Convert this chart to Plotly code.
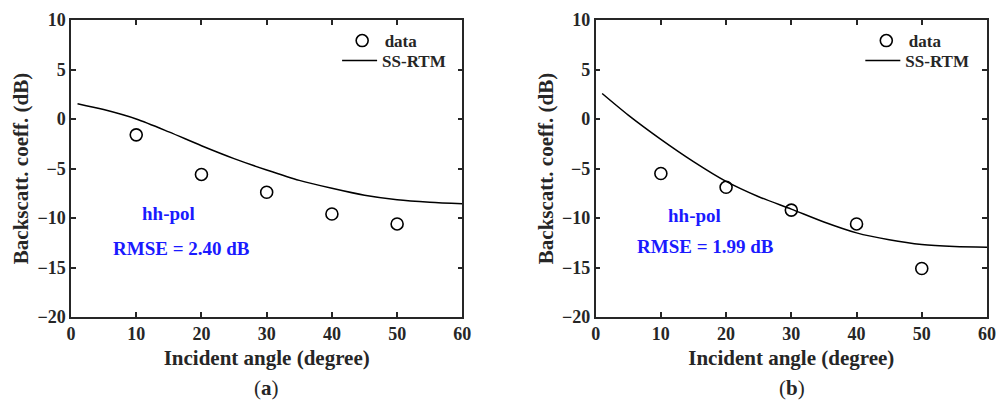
import plotly.graph_objects as go
from plotly.subplots import make_subplots

# Measured data (incident angle, dB)
angles_data = [10, 20, 30, 40, 50]
data_a = [-1.6, -5.6, -7.4, -9.6, -10.6]
data_b = [-5.5, -6.9, -9.2, -10.6, -15.1]

# Model curves (SS-RTM)
angles_model = [1, 5, 10, 15, 20, 25, 30, 35, 40, 45, 50, 55, 60]
model_a = [1.55, 0.95, 0.0, -1.3, -2.7, -4.0, -5.15, -6.2, -7.0, -7.7, -8.15, -8.4, -8.55]
model_b = [2.58, 0.4, -2.05, -4.3, -6.3, -7.85, -9.1, -10.4, -11.5, -12.2, -12.68, -12.88, -12.95]

rmse_labels = ["RMSE = 2.40 dB", "RMSE = 1.99 dB"]
panel_labels = ["a", "b"]

FONT = "Liberation Serif"
INK = "#262626"

# page body has an 8px margin, so the figure is sized to fit the window
fig = make_subplots(rows=1, cols=2, horizontal_spacing=0.1455)
fig.update_layout(
    width=998, height=392,
    margin=dict(l=63, r=19, t=12, b=83, autoexpand=False),
    plot_bgcolor="white", paper_bgcolor="white",
    font=dict(family=FONT, size=18, color=INK),
    showlegend=True,
)

sets = [(data_a, model_a, "legend", "legend2"), (data_b, model_b, "legend3", "legend4")]
for i, (d, m, lg1, lg2) in enumerate(sets):
    col = i + 1
    fig.add_trace(go.Scatter(
        x=angles_data, y=d, mode="markers", name="<b>data</b>", legend=lg1, showlegend=True,
        marker=dict(symbol="circle-open", size=12, color="black", line=dict(width=1.6, color="black")),
    ), row=1, col=col)
    fig.add_trace(go.Scatter(
        x=angles_model, y=m, mode="lines", name="<b>SS-RTM</b>", legend=lg2, showlegend=True,
        line=dict(color="black", width=1.5, shape="spline", smoothing=0.8),
    ), row=1, col=col)

axis_common = dict(
    showline=True, linecolor=INK, linewidth=1.5, mirror="ticks",
    ticks="inside", ticklen=5, tickwidth=1.5, tickcolor=INK,
    showgrid=False, zeroline=False, automargin=False,
    tickfont=dict(family=FONT, size=18, color=INK),
)
for col in (1, 2):
    fig.update_xaxes(range=[0, 60], dtick=10, tickprefix="<b>", ticksuffix="</b>",
                     title=dict(text="<b>Incident angle (degree)</b>", font=dict(family=FONT, size=21, color=INK), standoff=7),
                     row=1, col=col, **axis_common)
    fig.update_yaxes(range=[-20, 10], dtick=5, tickprefix="<b>", ticksuffix="</b>",
                     title=dict(text="<b>Backscatt. coeff. (dB)</b>", font=dict(family=FONT, size=21, color=INK), standoff=3),
                     row=1, col=col, **axis_common)

leg_common = dict(
    bgcolor="rgba(0,0,0,0)", borderwidth=0,
    font=dict(family=FONT, size=17, color=INK),
    xanchor="left", yanchor="middle", itemwidth=35, visible=True,
)
row1_y = 1 - (41 - 20) / 296.7
row2_y = 1 - (61 - 20) / 296.7
fig.update_layout(
    legend=dict(x=0.2933, y=row1_y, **leg_common),
    legend2=dict(x=0.2905, y=row2_y, **leg_common),
    legend3=dict(x=0.8655, y=row1_y, **leg_common),
    legend4=dict(x=0.8617, y=row2_y, **leg_common),
)

# Annotations: hh-pol and RMSE
text_pos = [("x", "y", 14.9, -9.5, 17.0, -13.05), ("x2", "y2", 15.2, -9.7, 16.9, -12.9)]
for i, (xr, yr, hx, hy, rx, ry) in enumerate(text_pos):
    fig.add_annotation(x=hx, y=hy, xref=xr, yref=yr, text="<b>hh-pol</b>", showarrow=False,
                       font=dict(family=FONT, size=19, color="#1a1aff"))
    fig.add_annotation(x=rx, y=ry, xref=xr, yref=yr, text="<b>" + rmse_labels[i] + "</b>", showarrow=False,
                       font=dict(family=FONT, size=19, color="#1a1aff"))

# panel labels
for i, xc in enumerate([0.2139, 0.7866]):
    fig.add_annotation(x=xc, y=-(388 - 316.7) / 296.7, xref="paper", yref="paper",
                       xanchor="center", yanchor="middle",
                       text="(<b>" + panel_labels[i] + "</b>)",
                       showarrow=False, font=dict(family=FONT, size=21, color=INK))

fig.write_html("out.html")
